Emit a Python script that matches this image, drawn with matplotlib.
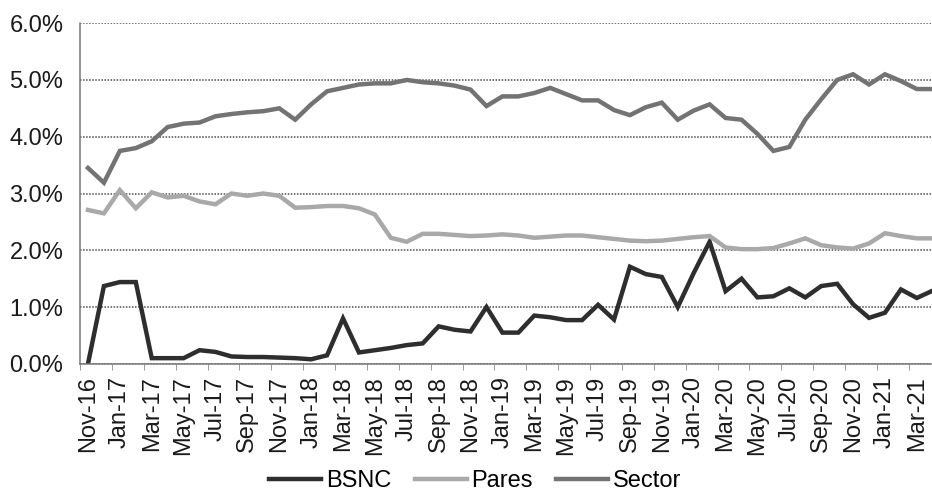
import pandas as pd
import matplotlib.pyplot as plt
from matplotlib.ticker import FuncFormatter

plt.rcParams['font.family'] = ['Liberation Sans', 'DejaVu Sans']

# monthly series, Nov-16 .. Apr-21 (values in %)
months = pd.date_range("2016-11-01", periods=54, freq="MS").strftime("%b-%y").tolist()

bsnc = [0.00, 1.37, 1.44, 1.44, 0.10, 0.10, 0.10, 0.24, 0.21, 0.13,
        0.12, 0.12, 0.11, 0.10, 0.08, 0.15, 0.80, 0.20, 0.24, 0.28,
        0.33, 0.36, 0.66, 0.60, 0.57, 1.00, 0.55, 0.55, 0.85, 0.82,
        0.77, 0.77, 1.04, 0.78, 1.71, 1.58, 1.53, 1.00, 1.60, 2.15,
        1.28, 1.50, 1.17, 1.19, 1.33, 1.17, 1.37, 1.41, 1.05, 0.81,
        0.90, 1.31, 1.16, 1.29]

pares = [2.71, 2.65, 3.06, 2.74, 3.02, 2.93, 2.96, 2.86, 2.81, 3.00,
         2.96, 3.00, 2.96, 2.75, 2.76, 2.78, 2.78, 2.74, 2.63, 2.22,
         2.15, 2.29, 2.29, 2.27, 2.25, 2.26, 2.28, 2.26, 2.22, 2.24,
         2.26, 2.26, 2.23, 2.20, 2.17, 2.16, 2.17, 2.20, 2.23, 2.25,
         2.05, 2.02, 2.02, 2.04, 2.12, 2.21, 2.09, 2.05, 2.03, 2.12,
         2.30, 2.25, 2.21, 2.21]

sector = [3.45, 3.19, 3.75, 3.80, 3.92, 4.17, 4.23, 4.25, 4.36, 4.40,
          4.43, 4.45, 4.50, 4.30, 4.57, 4.80, 4.86, 4.92, 4.94, 4.94,
          5.00, 4.96, 4.94, 4.90, 4.83, 4.54, 4.71, 4.71, 4.77, 4.86,
          4.75, 4.64, 4.64, 4.47, 4.38, 4.52, 4.60, 4.30, 4.46, 4.57,
          4.33, 4.30, 4.05, 3.75, 3.82, 4.30, 4.66, 5.00, 5.10, 4.92,
          5.10, 4.98, 4.84, 4.84]

x = list(range(len(months)))

fig = plt.figure(figsize=(9.32, 4.93), dpi=100)
ax = fig.add_axes([80 / 932, 0.262, 1 - 80 / 932, 0.691])

ax.plot(x, bsnc, color="#2e2e2e", lw=3.2, label="BSNC", solid_joinstyle="miter")
ax.plot(x, pares, color="#a9a9a9", lw=3.2, label="Pares", solid_joinstyle="miter")
ax.plot(x, sector, color="#737373", lw=3.2, label="Sector", solid_joinstyle="miter")

ax.set_ylim(0, 6)
ax.set_xlim(-0.5, 52.95)
ax.set_yticks([0, 1, 2, 3, 4, 5, 6])
ax.yaxis.set_major_formatter(FuncFormatter(lambda v, p: f"{v:.1f}%"))
ax.grid(axis="y", color="#4d4d4d", linestyle=(0, (1, 1)), lw=1.1)
ax.set_axisbelow(True)

# labels at category centres, tick marks between categories
ax.set_xticks(x[::2])
ax.set_xticklabels(months[::2], rotation=90)
ax.set_xticks([i - 0.5 for i in x[::2]], minor=True)
ax.tick_params(axis="x", which="major", length=0, pad=9, labelsize=17, colors="#1a1a1a")
ax.tick_params(axis="x", which="minor", length=4, color="#888888", direction="out")
ax.tick_params(axis="y", length=0, pad=12, labelsize=17, colors="#1a1a1a")

for s in ["top", "right"]:
    ax.spines[s].set_visible(False)
for s in ["left", "bottom"]:
    ax.spines[s].set_color("#777777")
    ax.spines[s].set_linestyle((0, (1, 1)))
    ax.spines[s].set_linewidth(1.1)

fig.legend(loc="center", bbox_to_anchor=(0.51, 0.024), ncol=3, frameon=False,
           fontsize=17, handlelength=2.2, handletextpad=0.2, columnspacing=1.0,
           borderpad=0)

plt.savefig("out.png", dpi=100)
